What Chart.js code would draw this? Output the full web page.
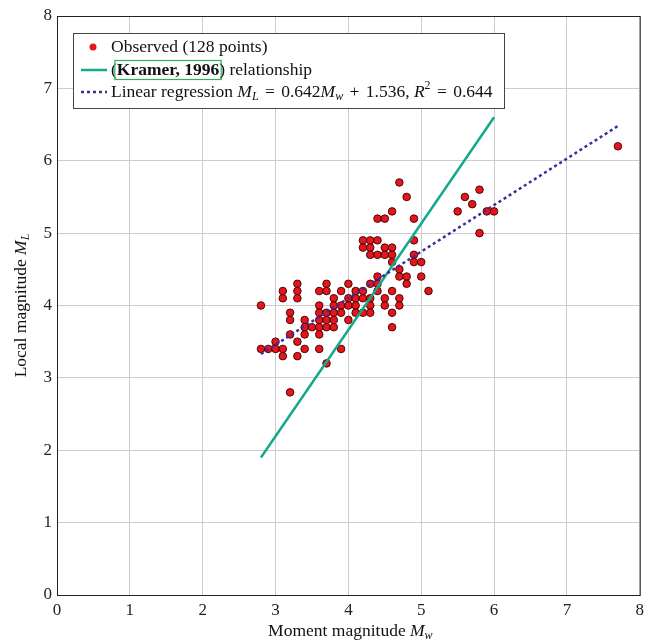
<!DOCTYPE html>
<html>
<head>
<meta charset="utf-8">
<script src="https://cdn.jsdelivr.net/npm/chart.js@4/dist/chart.umd.min.js"></script>
<style>
  html, body { margin: 0; padding: 0; background: #fff; }
  #wrap { width: 649px; height: 644px; }
</style>
</head>
<body>
<div id="wrap"><canvas id="chart" width="649" height="644"></canvas></div>
<script>
const obsMw = [
    7.7,
    4.7,
    5.8,
    4.8, 5.6,
    5.7,
    4.6, 5.5, 5.9, 6.0,
    4.4, 4.5, 4.9,
    5.8,
    4.2, 4.3, 4.4, 4.9,
    4.2, 4.3, 4.5, 4.6,
    4.3, 4.4, 4.5, 4.6, 4.9,
    4.6, 4.9, 5.0,
    4.7,
    4.4, 4.7, 4.8, 5.0,
    3.3, 3.7, 4.0, 4.3, 4.4, 4.8,
    3.1, 3.3, 3.6, 3.7, 3.9, 4.1, 4.2, 4.4, 4.6, 5.1,
    3.1, 3.3, 3.8, 4.0, 4.1, 4.2, 4.3, 4.5, 4.7,
    2.8, 3.6, 3.8, 3.9, 4.0, 4.1, 4.3, 4.5, 4.7,
    3.2, 3.6, 3.7, 3.8, 3.9, 4.1, 4.2, 4.3, 4.6,
    3.2, 3.4, 3.6, 3.7, 3.8, 4.0,
    3.4, 3.5, 3.6, 3.7, 3.8, 4.6,
    3.2, 3.4, 3.6,
    3.0, 3.3,
    2.8, 2.9, 3.0, 3.1, 3.4, 3.6, 3.9,
    3.1, 3.3,
    3.7,
    3.2
];
const obsMl = [
    6.2,
    5.7,
    5.6,
    5.5, 5.5,
    5.4,
    5.3, 5.3, 5.3, 5.3,
    5.2, 5.2, 5.2,
    5.0,
    4.9, 4.9, 4.9, 4.9,
    4.8, 4.8, 4.8, 4.8,
    4.7, 4.7, 4.7, 4.7, 4.7,
    4.6, 4.6, 4.6,
    4.5,
    4.4, 4.4, 4.4, 4.4,
    4.3, 4.3, 4.3, 4.3, 4.3, 4.3,
    4.2, 4.2, 4.2, 4.2, 4.2, 4.2, 4.2, 4.2, 4.2, 4.2,
    4.1, 4.1, 4.1, 4.1, 4.1, 4.1, 4.1, 4.1, 4.1,
    4.0, 4.0, 4.0, 4.0, 4.0, 4.0, 4.0, 4.0, 4.0,
    3.9, 3.9, 3.9, 3.9, 3.9, 3.9, 3.9, 3.9, 3.9,
    3.8, 3.8, 3.8, 3.8, 3.8, 3.8,
    3.7, 3.7, 3.7, 3.7, 3.7, 3.7,
    3.6, 3.6, 3.6,
    3.5, 3.5,
    3.4, 3.4, 3.4, 3.4, 3.4, 3.4, 3.4,
    3.3, 3.3,
    3.2,
    2.8
];

// Kramer (1996) relationship, end points
const kramerMw = [2.8, 6.0];
const kramerMl = [1.9, 6.6];

// linear regression ML = 0.642 Mw + 1.536, end points
const regMw = [2.8, 7.7];
const regMl = [3.33, 6.48];

const axisTicks = [0, 1, 2, 3, 4, 5, 6, 7, 8];

const SERIF = '"Liberation Serif", "DejaVu Serif", serif';
const RED = '#e8141c';
const TEAL = '#14a98c';
const BLUE = '#3a2d9c';

function toPoints(xs, ys) {
    return xs.map((x, i) => ({ x: x, y: ys[i] }));
}

// draws text pieces (normal / italic / bold, sub and superscripts), returns width
function drawRich(ctx, parts, x, y, size, measureOnly) {
    ctx.textBaseline = 'middle';
    ctx.textAlign = 'left';
    const x0 = x;
    parts.forEach(p => {
        let s = size;
        let dy = 0;
        if (p.sub) { s = Math.round(size * 0.7); dy = size * 0.27; }
        if (p.sup) { s = Math.round(size * 0.7); dy = -size * 0.38; }
        let style = '';
        if (p.i) style = 'italic ';
        if (p.b) style = 'bold ';
        ctx.font = style + s + 'px ' + SERIF;
        x += p.gap || 0;
        const w = ctx.measureText(p.t).width;
        if (!measureOnly) {
            ctx.fillStyle = '#111';
            ctx.fillText(p.t, x, y + dy);
            if (p.box) {
                ctx.save();
                ctx.strokeStyle = '#2bb35a';
                ctx.lineWidth = 1.2;
                ctx.strokeRect(x - 2, y - 9.5, w + 4, 19);
                ctx.restore();
            }
        }
        x += w + (p.gap || 0);
    });
    return x - x0;
}

const xTitle = [
    { t: 'Moment magnitude ' },
    { t: 'M', i: true },
    { t: 'w', i: true, sub: true }
];
const yTitle = [
    { t: 'Local magnitude ' },
    { t: 'M', i: true },
    { t: 'L', i: true, sub: true }
];

const framePlugin = {
    id: 'frame',
    afterDraw(chart) {
        const ctx = chart.ctx;
        const a = chart.chartArea;
        ctx.save();
        ctx.strokeStyle = '#222';
        ctx.lineWidth = 1;
        ctx.strokeRect(a.left + 0.5, a.top + 0.5, a.right - a.left, a.bottom - a.top);

        // axis titles
        const midX = (a.left + a.right) / 2;
        let w = drawRich(ctx, xTitle, 0, 0, 17.5, true);
        drawRich(ctx, xTitle, midX - w / 2 + 2, 631, 17.5);

        ctx.save();
        ctx.translate(21, (a.top + a.bottom) / 2);
        ctx.rotate(-Math.PI / 2);
        w = drawRich(ctx, yTitle, 0, 0, 17.5, true);
        drawRich(ctx, yTitle, -w / 2, 0, 17.5);
        ctx.restore();

        // legend box
        const lx = 73, ly = 33, lw = 431, lh = 75;
        ctx.fillStyle = '#fff';
        ctx.fillRect(lx, ly, lw, lh);
        ctx.strokeStyle = '#444';
        ctx.lineWidth = 1;
        ctx.strokeRect(lx + 0.5, ly + 0.5, lw, lh);

        // row 1: observed
        ctx.beginPath();
        ctx.arc(93, 47, 3.5, 0, Math.PI * 2);
        ctx.fillStyle = RED;
        ctx.fill();
        drawRich(ctx, [{ t: 'Observed (128 points)' }], 111, 47, 17.5);

        // row 2: Kramer
        ctx.beginPath();
        ctx.moveTo(81, 70);
        ctx.lineTo(107, 70);
        ctx.strokeStyle = TEAL;
        ctx.lineWidth = 2.5;
        ctx.stroke();
        drawRich(ctx, [
            { t: '(' },
            { t: 'Kramer, 1996', b: true, box: true },
            { t: ') relationship' }
        ], 111, 70, 17.5);

        // row 3: regression
        ctx.beginPath();
        ctx.setLineDash([3, 3]);
        ctx.moveTo(81, 92);
        ctx.lineTo(107, 92);
        ctx.strokeStyle = BLUE;
        ctx.lineWidth = 2.5;
        ctx.stroke();
        ctx.setLineDash([]);
        drawRich(ctx, [
            { t: 'Linear regression ' },
            { t: 'M', i: true },
            { t: 'L', i: true, sub: true },
            { t: ' = ', gap: 2 },
            { t: '0.642' },
            { t: 'M', i: true },
            { t: 'w', i: true, sub: true },
            { t: ' + ', gap: 2 },
            { t: '1.536, ' },
            { t: 'R', i: true },
            { t: '2', sup: true },
            { t: ' = ', gap: 2 },
            { t: '0.644' }
        ], 111, 92, 17.5);
        ctx.restore();
    }
};

const tickStyle = {
    color: '#222',
    font: { family: SERIF, size: 17 },
    stepSize: 1,
    padding: 5
};

new Chart(document.getElementById('chart'), {
    type: 'scatter',
    data: {
        datasets: [
            {
                label: 'Linear regression',
                data: toPoints(regMw, regMl),
                showLine: true,
                borderColor: BLUE,
                borderWidth: 2.5,
                borderDash: [3, 3],
                pointRadius: 0,
                order: 1
            },
            {
                label: 'Kramer, 1996',
                data: toPoints(kramerMw, kramerMl),
                showLine: true,
                borderColor: TEAL,
                borderWidth: 2.5,
                pointRadius: 0,
                order: 2
            },
            {
                label: 'Observed (128 points)',
                data: toPoints(obsMw, obsMl),
                backgroundColor: RED,
                borderColor: '#3a0000',
                borderWidth: 0.9,
                pointRadius: 3.8,
                order: 3
            }
        ]
    },
    options: {
        responsive: false,
        animation: false,
        layout: { padding: { left: 0, top: 16, right: 9, bottom: 0 } },
        plugins: {
            legend: { display: false },
            tooltip: { enabled: false }
        },
        scales: {
            x: {
                type: 'linear',
                min: 0,
                max: 8,
                afterBuildTicks: scale => { scale.ticks = axisTicks.map(v => ({ value: v })); },
                afterFit: scale => { scale.height = 49; },
                ticks: tickStyle,
                grid: { color: '#cccccc', drawTicks: false },
                border: { display: false }
            },
            y: {
                type: 'linear',
                min: 0,
                max: 8,
                afterBuildTicks: scale => { scale.ticks = axisTicks.map(v => ({ value: v })); },
                afterFit: scale => { scale.width = 57; },
                ticks: tickStyle,
                grid: { color: '#cccccc', drawTicks: false },
                border: { display: false }
            }
        }
    },
    plugins: [framePlugin]
});
</script>
</body>
</html>
